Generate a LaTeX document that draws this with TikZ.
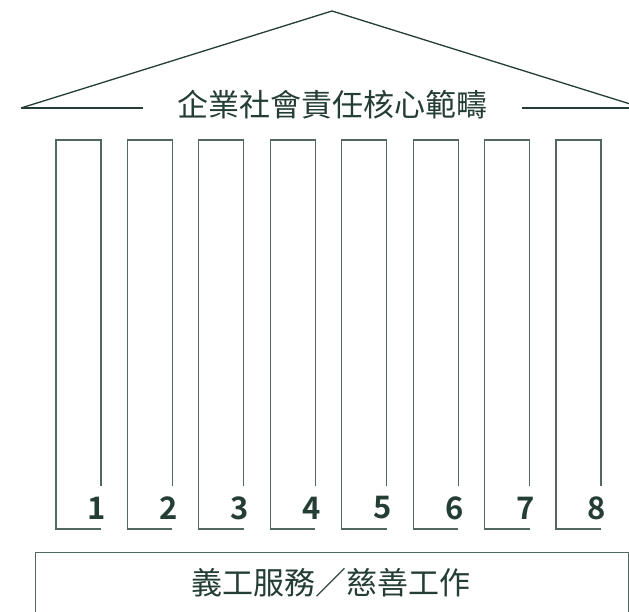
\documentclass[tikz,border=0pt]{standalone}
\usepackage{fontspec}
\setmainfont{Noto Sans}
\newfontfamily\cjk{Noto Sans CJK TC}
\newfontfamily\numfont{Noto Sans CJK TC Bold}
\definecolor{dkgreen}{RGB}{36,62,52}
\definecolor{colline}{RGB}{80,104,95}
\tikzset{
  roof/.style={draw=dkgreen, line width=1.3pt},
  colbox/.style={draw=colline, line width=1.2pt},
  title/.style={text=dkgreen, font=\cjk\fontsize{31}{31}\selectfont, inner sep=0pt},
  num/.style={text=dkgreen, font=\numfont\fontsize{31}{31}\selectfont, inner sep=0pt},
}
\begin{document}
\begin{tikzpicture}[x=1pt,y=-1pt]
\useasboundingbox (0,0) rectangle (629,612);
\clip (0,0) rectangle (629,612);
\fill[white] (0,0) rectangle (629,612);
% roof
\coordinate (apex) at (332,11);
\coordinate (rl) at (21,108);
\coordinate (rr) at (643,108);
\node[title] (head) at (332,105) {企業社會責任核心範疇};
\coordinate (hl) at (143,108);
\coordinate (hr) at (522,108);
\draw[roof] (rl) -- (apex) -- (rr);
\draw[roof] (rl) -- (hl);
\draw[roof] (hr) -- (rr);
% columns
\foreach \i in {1,...,8}{
  \pgfmathsetmacro{\xl}{56+(\i-1)*71.43}
  \pgfmathsetmacro{\xr}{\xl+45}
  \coordinate (tl\i) at (\xl,140);
  \coordinate (tr\i) at (\xr,140);
  \coordinate (br\i) at (\xr,486);
  \coordinate (bl\i) at (\xl,529);
  \coordinate (be\i) at (\xr,529);
  \draw[colbox] (br\i) -- (tr\i) -- (tl\i) -- (bl\i) -- (be\i);
  \node[num] (n\i) at (\xr-4,508) {\i};
}
% base
\node[draw=colline, line width=1.3pt, minimum width=593pt, minimum height=80pt, anchor=north west, inner sep=0pt] (base) at (35,552) {};
\node[title] (basetxt) at (331,583) {義工服務／慈善工作};
\end{tikzpicture}
\end{document}
